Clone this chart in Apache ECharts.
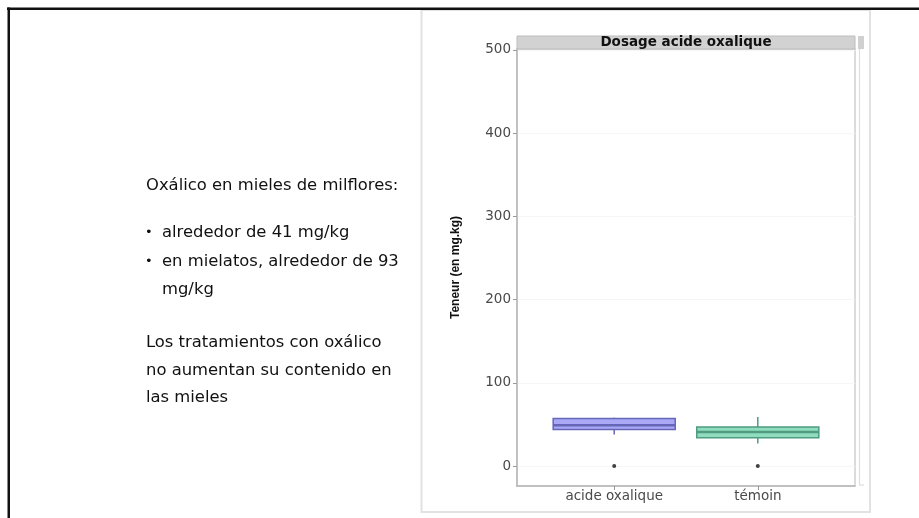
<!DOCTYPE html>
<html>
<head>
<meta charset="utf-8">
<title>Dosage acide oxalique</title>
<script src="https://cdn.jsdelivr.net/npm/echarts@6/dist/echarts.min.js"></script>
<style>
  html, body { margin: 0; padding: 0; background: #fff; }
  #chart { width: 919px; height: 518px; }
</style>
</head>
<body>
<div id="chart"></div>
<script>
// Oxalic acid content in honey (mg/kg), treated hives vs. control
const categories = ['acide oxalique', 'témoin'];
const whiskerLow = [38, 27];
const q1 = [44, 34];
const median = [49, 41];
const q3 = [57, 47];
const whiskerHigh = [58, 59];
const outliers = [[0], [0]];
const yTicks = [0, 100, 200, 300, 400, 500];

const boxColors = [
  { fill: '#a9a9f7', stroke: '#6767b8' },
  { fill: '#8fdcbf', stroke: '#4f9c80' }
];

// panel geometry
const panel = { left: 517, top: 49, width: 338, height: 437 };

const boxData = categories.map((c, i) => [i + 1, whiskerLow[i], q1[i], median[i], q3[i], whiskerHigh[i]]);
const outlierData = [];
outliers.forEach((list, i) => list.forEach(v => outlierData.push([i + 1, v])));

const chart = echarts.init(document.getElementById('chart'), null, { renderer: 'canvas' });

const axisFont = { fontFamily: 'DejaVu Sans', fontSize: 13.5, color: '#4a4a4a' };
const bodyFont = { fontFamily: 'DejaVu Sans', fontSize: 16.4, fill: '#111', verticalAlign: 'middle' };

chart.setOption({
  animation: false,
  backgroundColor: '#ffffff',
  grid: {
    left: panel.left, top: panel.top, width: panel.width, height: panel.height,
    show: true, borderColor: '#cfcfcf', borderWidth: 1.5, backgroundColor: '#ffffff'
  },
  xAxis: {
    type: 'value', min: 0.323, max: 2.677,
    axisLine: { show: true, onZero: false, lineStyle: { color: '#b8b8b8', width: 1.5 } },
    axisTick: { show: true, customValues: [1, 2], length: 4, lineStyle: { color: '#9a9a9a' } },
    axisLabel: {
      customValues: [1, 2], margin: 3, ...axisFont,
      formatter: v => categories[Math.round(v) - 1] || ''
    },
    splitLine: { show: false }
  },
  yAxis: {
    type: 'value', min: -24, max: 501,
    name: 'Teneur (en mg.kg)', nameLocation: 'middle', nameGap: 55, nameRotate: 90,
    nameTextStyle: { fontFamily: 'Liberation Sans', fontWeight: 'bold', fontSize: 12, color: '#111' },
    axisLine: { show: true, onZero: false, lineStyle: { color: '#b8b8b8', width: 1.5 } },
    axisTick: { show: true, customValues: yTicks, length: 4, lineStyle: { color: '#9a9a9a' } },
    axisLabel: { customValues: yTicks, margin: 6, ...axisFont },
    splitLine: { show: true, lineStyle: { color: '#f6f6f6', width: 1 } }
  },
  series: [
    {
      type: 'custom',
      data: boxData,
      encode: { x: 0, y: [1, 2, 3, 4, 5] },
      renderItem: function (params, api) {
        const i = params.dataIndex;
        const x = api.value(0);
        const half = api.size([0.85, 0])[0] / 2;
        const pLow = api.coord([x, api.value(1)]);
        const pQ1 = api.coord([x, api.value(2)]);
        const pMed = api.coord([x, api.value(3)]);
        const pQ3 = api.coord([x, api.value(4)]);
        const pHigh = api.coord([x, api.value(5)]);
        const col = boxColors[i];
        return {
          type: 'group',
          children: [
            { type: 'line', shape: { x1: pLow[0], y1: pLow[1], x2: pQ1[0], y2: pQ1[1] },
              style: { stroke: col.stroke, lineWidth: 1.5 } },
            { type: 'line', shape: { x1: pQ3[0], y1: pQ3[1], x2: pHigh[0], y2: pHigh[1] },
              style: { stroke: col.stroke, lineWidth: 1.5 } },
            { type: 'rect', shape: { x: pQ3[0] - half, y: pQ3[1], width: half * 2, height: pQ1[1] - pQ3[1] },
              style: { fill: col.fill, stroke: col.stroke, lineWidth: 1.5 } },
            { type: 'line', shape: { x1: pMed[0] - half, y1: pMed[1], x2: pMed[0] + half, y2: pMed[1] },
              style: { stroke: col.stroke, lineWidth: 2.5 } }
          ]
        };
      }
    },
    {
      type: 'scatter',
      data: outlierData,
      symbol: 'circle', symbolSize: 4,
      itemStyle: { color: '#111' }
    }
  ],
  graphic: [
    // slide frame
    { type: 'line', shape: { x1: 7, y1: 8.75, x2: 919, y2: 8.75 }, style: { stroke: '#111', lineWidth: 2.5 }, z: 10 },
    { type: 'line', shape: { x1: 8.75, y1: 7.5, x2: 8.75, y2: 518 }, style: { stroke: '#111', lineWidth: 2.5 }, z: 10 },
    // figure frame
    { type: 'rect', shape: { x: 421.5, y: 10, width: 448.5, height: 502 },
      style: { fill: 'none', stroke: '#e2e2e2', lineWidth: 2 }, z: -1 },
    // facet strip
    { type: 'rect', shape: { x: panel.left, y: 36, width: panel.width, height: panel.top - 36 },
      style: { fill: '#d2d2d2', stroke: '#bdbdbd', lineWidth: 1 }, z: 5 },
    { type: 'text', x: panel.left + panel.width / 2, y: 42.5,
      style: { text: 'Dosage acide oxalique', fontFamily: 'DejaVu Sans', fontWeight: 'bold', fontSize: 13.5,
               fill: '#111', align: 'center', verticalAlign: 'middle' }, z: 6 },
    { type: 'rect', shape: { x: 858, y: 36, width: 6, height: 13 }, style: { fill: '#d0d0d0' }, z: 5 },
    { type: 'line', shape: { x1: 859.5, y1: 49, x2: 859.5, y2: 485 }, style: { stroke: '#dedede', lineWidth: 1.2 }, z: 5 },
    { type: 'line', shape: { x1: 859, y1: 485, x2: 864, y2: 485 }, style: { stroke: '#dedede', lineWidth: 1.2 }, z: 5 },
    // slide text
    { type: 'text', x: 146, y: 186, style: { text: 'Oxálico en mieles de milflores:', ...bodyFont } },
    { type: 'text', x: 145, y: 233, style: { text: '•', ...bodyFont, fontSize: 13 } },
    { type: 'text', x: 162, y: 233, style: { text: 'alrededor de 41 mg/kg', ...bodyFont } },
    { type: 'text', x: 145, y: 262, style: { text: '•', ...bodyFont, fontSize: 13 } },
    { type: 'text', x: 162, y: 262, style: { text: 'en mielatos, alrededor de 93', ...bodyFont } },
    { type: 'text', x: 162, y: 290, style: { text: 'mg/kg', ...bodyFont } },
    { type: 'text', x: 146, y: 343, style: { text: 'Los tratamientos con oxálico', ...bodyFont } },
    { type: 'text', x: 146, y: 371, style: { text: 'no aumentan su contenido en', ...bodyFont } },
    { type: 'text', x: 146, y: 398, style: { text: 'las mieles', ...bodyFont } }
  ]
});
</script>
</body>
</html>
